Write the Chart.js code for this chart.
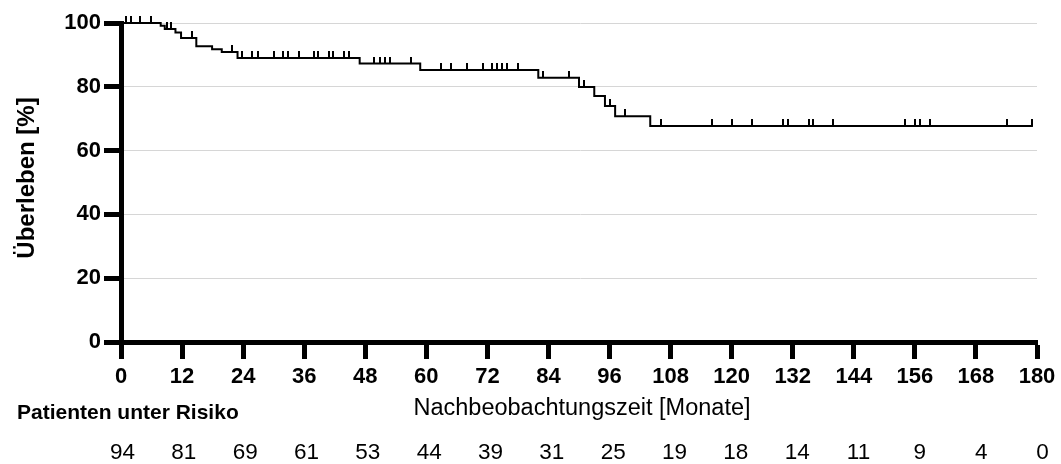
<!DOCTYPE html>
<html>
<head>
<meta charset="utf-8">
<script src="https://cdn.jsdelivr.net/npm/chart.js@4"></script>
<style>
  html, body { margin: 0; background: #fff; }
</style>
</head>
<body>
<canvas id="km" width="1061" height="464"></canvas>
<script>
// Kaplan-Meier: Gesamtüberleben, Stufen und zensierte Fälle
const FONT = 'Arial, "Liberation Sans", sans-serif';

// Zeitpunkte der Ereignisse (Monate) und Überleben danach (%)
const stepMonths   = [0, 7.8, 8.6, 10.7, 11.8, 14.8, 17.9, 19.8, 22.9, 46.9, 58.8, 82.0, 90.0, 93.0, 95.1, 97.1, 104.0, 179.2];
const stepSurvival = [100, 99.1, 98.1, 97.0, 95.3, 92.7, 91.8, 90.9, 89.0, 87.3, 85.3, 82.8, 79.9, 77.1, 74.0, 70.8, 67.7, 67.7];

// zensierte Patienten (Monate)
const censorMonths = [
  0.9, 2.0, 3.8, 5.8, 9.1, 9.9, 14.0, 21.8,
  23.8, 25.8, 26.9, 30.0, 31.9, 32.9, 34.9, 38.0, 38.8, 40.8, 41.7, 43.9, 44.8,
  49.8, 50.8, 51.9, 52.9, 56.9,
  62.9, 64.9, 68.0, 71.1, 72.9, 73.9, 74.9, 75.9, 78.0,
  83.0, 88.0, 91.0, 96.0, 99.0,
  106.1, 116.1, 120.1, 124.0, 130.0, 131.0, 135.1, 135.9, 140.0,
  154.1, 156.1, 157.1, 159.0, 174.2, 179.1
];

// Patienten unter Risiko
const riskMonths = [0, 12, 24, 36, 48, 60, 72, 84, 96, 108, 120, 132, 144, 156, 168, 180];
const atRisk     = [94, 81, 69, 61, 53, 44, 39, 31, 25, 19, 18, 14, 11, 9, 4, 0];

function levelAt(m) {
  let s = stepSurvival[0];
  for (let i = 0; i < stepMonths.length; i++) if (stepMonths[i] <= m) s = stepSurvival[i];
  return s;
}

// kleiner senkrechter Strich über der Kurve als Zensurmarke
function censorMark() {
  const c = document.createElement('canvas');
  c.width = 2; c.height = 14;
  const g = c.getContext('2d');
  g.fillStyle = '#000';
  g.fillRect(0, 0, 2, 7);
  return c;
}

const extraText = {
  id: 'extraText',
  afterDraw(chart) {
    const { ctx, scales: { x } } = chart;
    ctx.save();
    ctx.fillStyle = '#000';

    // y-Achsentitel
    ctx.save();
    ctx.translate(27, 178);
    ctx.rotate(-Math.PI / 2);
    ctx.font = `bold 24px ${FONT}`;
    ctx.textAlign = 'center';
    ctx.textBaseline = 'middle';
    ctx.fillText('Überleben [%]', 0, 0);
    ctx.restore();

    // x-Achsentitel
    ctx.font = `23.5px ${FONT}`;
    ctx.textAlign = 'center';
    ctx.textBaseline = 'middle';
    ctx.fillText('Nachbeobachtungszeit [Monate]', 582, 409);

    ctx.font = `bold 21px ${FONT}`;
    ctx.textAlign = 'left';
    ctx.fillText('Patienten unter Risiko', 17, 413);

    // Zahlen unter Risiko, leicht breiter gesetzt als die Achse
    ctx.font = `22.5px ${FONT}`;
    ctx.textAlign = 'center';
    riskMonths.forEach((m, i) => {
      ctx.fillText(String(atRisk[i]), x.getPixelForValue(m) + 1.5 + 4 * m / 180, 453);
    });
    ctx.restore();
  }
};

new Chart(document.getElementById('km'), {
  type: 'line',
  data: {
    datasets: [
      {
        data: stepMonths.map((m, i) => ({ x: m, y: stepSurvival[i] })),
        stepped: 'before',
        borderColor: '#000',
        borderWidth: 2,
        pointRadius: 0,
        fill: false,
        clip: false
      },
      {
        data: censorMonths.map(m => ({ x: m, y: levelAt(m) })),
        showLine: false,
        pointStyle: censorMark(),
        pointRadius: 7,
        clip: false
      }
    ]
  },
  options: {
    responsive: false,
    animation: false,
    events: [],
    layout: { padding: { left: 0, top: 23, right: 24, bottom: 0 } },
    plugins: { legend: { display: false }, tooltip: { enabled: false } },
    scales: {
      x: {
        type: 'linear',
        min: 0, max: 180,
        afterFit: s => { s.height = 122; },
        ticks: { stepSize: 12, color: '#000', padding: 5, maxRotation: 0,
                 font: { family: FONT, size: 22, weight: 'bold' } },
        grid: { drawOnChartArea: false, drawTicks: true, tickLength: 17,
                tickColor: '#000', tickWidth: 5 },
        border: { color: '#000', width: 5 }
      },
      y: {
        min: 0, max: 100,
        afterFit: s => { s.width = 121; },
        ticks: { stepSize: 20, color: '#000', padding: 3,
                 font: { family: FONT, size: 22, weight: 'bold' } },
        grid: { color: '#d6d6d6', lineWidth: 1, drawTicks: true, tickLength: 17,
                tickColor: '#000', tickWidth: 5 },
        border: { color: '#000', width: 5 }
      }
    }
  },
  plugins: [extraText]
});
</script>
</body>
</html>
